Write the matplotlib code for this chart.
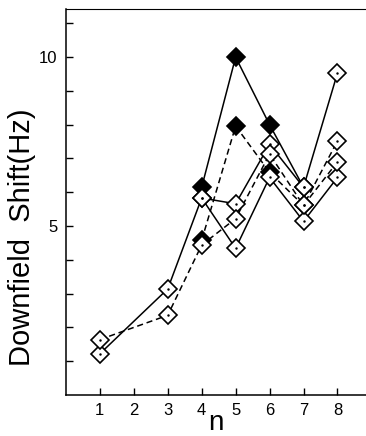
import matplotlib.pyplot as plt
import numpy as np

plt.rcParams['font.family'] = ['Liberation Sans', 'DejaVu Sans']

# downfield shift vs n, one list per curve; filled = solid diamond
n1 = [4, 5, 6, 7, 8]
s1 = [6.15, 10.0, 8.0, 6.15, 9.53]
f1 = [1, 1, 1, 0, 0]

n2 = [4, 5, 6, 7, 8]
s2 = [4.58, 7.96, 6.59, 5.61, 7.52]
f2 = [1, 1, 1, 0, 0]

n3 = [1, 3, 4, 5, 6, 7, 8]
s3 = [1.22, 3.14, 5.83, 4.34, 6.44, 5.14, 6.44]
f3 = [0, 0, 0, 0, 0, 0, 0]

n4 = [4, 5, 6, 7]
s4 = [5.83, 5.66, 7.42, 6.15]
f4 = [0, 0, 0, 0]

n5 = [1, 3, 4, 5, 6, 7, 8]
s5 = [1.64, 2.36, 4.44, 5.22, 7.13, 5.61, 6.90]
f5 = [0, 0, 0, 0, 0, 0, 0]

curves = [(n1, s1, f1, '-'), (n2, s2, f2, '--'), (n3, s3, f3, '-'),
          (n4, s4, f4, '-'), (n5, s5, f5, '--')]

xticks = [1, 2, 3, 4, 5, 6, 7, 8]

fig = plt.figure(figsize=(3.66, 4.36), dpi=100)
ax = fig.add_axes([0.180, 0.094, 0.82, 0.885])

for n, s, f, ls in curves:
    n = np.array(n); s = np.array(s); f = np.array(f, dtype=bool)
    line, = ax.plot(n, s, ls, color='black', lw=1.1, zorder=2)
    if ls == '--':
        line.set_dashes((4, 2.5))
    ax.plot(n[~f], s[~f], 'D', ms=9.5, mfc='white', mec='black', mew=1.2, zorder=3)
    ax.plot(n[~f], s[~f], '.', ms=1.5, color='black', zorder=4)
    ax.plot(n[f], s[f], 'D', ms=9.5, mfc='black', mec='black', mew=1.2, zorder=3)

ax.set_xlim(0, 8.84)
ax.set_ylim(0, 11.42)
ax.set_xticks(xticks)
ax.set_xticklabels([str(t) for t in xticks])
ax.set_yticks(range(1, 12))
ax.set_yticklabels(['5' if t == 5 else '10' if t == 10 else '' for t in range(1, 12)])
ax.tick_params(direction='in', length=5, width=1.0, labelsize=12, pad=6)
ax.spines['right'].set_visible(False)
ax.spines['top'].set_linewidth(0.8)
for side in ['left', 'bottom']:
    ax.spines[side].set_linewidth(1.1)

ax.set_xlabel('n', fontsize=20, labelpad=-6)
ax.set_ylabel('Downfield  Shift(Hz)', fontsize=21)
ax.yaxis.set_label_coords(-0.1, 0.41)

fig.savefig('out.png', dpi=100)
